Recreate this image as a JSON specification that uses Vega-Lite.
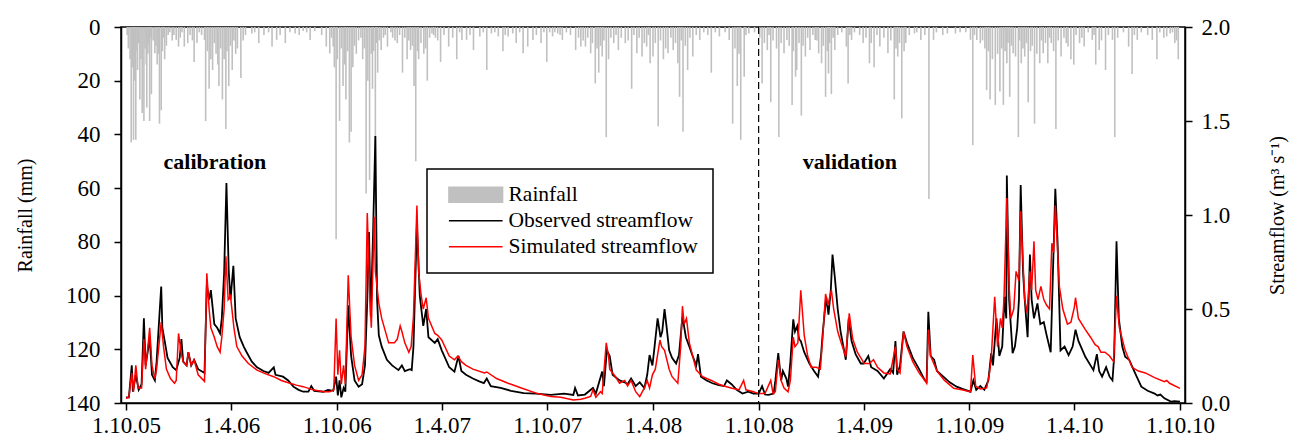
{
"$schema": "https://vega.github.io/schema/vega-lite/v6.json",
"width": 1064, "height": 376,
"autosize": {"type": "none"},
"padding": {"left": 121, "top": 27, "right": 107, "bottom": 43},
"background": "white",
"config": {
  "view": {"stroke": "black", "strokeWidth": 1.5},
  "axis": {"labelFont": "Liberation Serif", "titleFont": "Liberation Serif", "labelColor": "black", "titleColor": "black", "domainColor": "black", "tickColor": "black", "grid": false, "titleFontWeight": "normal", "labelFontSize": 23, "titleFontSize": 20, "tickSize": 7, "domainWidth": 1.5, "tickWidth": 1.5}
},
"datasets": {
  "rain": [
    {"date":"2005-10-08","rain":12},{"date":"2005-10-10","rain":43},{"date":"2005-10-14","rain":42},{"date":"2005-10-18","rain":42},{"date":"2005-10-21","rain":16},{"date":"2005-10-25","rain":27},{"date":"2005-10-29","rain":32},{"date":"2005-11-01","rain":35},{"date":"2005-11-06","rain":30},{"date":"2005-11-08","rain":10},{"date":"2005-11-11","rain":35},{"date":"2005-11-14","rain":25},{"date":"2005-11-20","rain":9.8},{"date":"2005-11-24","rain":14},{"date":"2005-11-28","rain":36},{"date":"2005-12-01","rain":31},{"date":"2005-12-07","rain":12},{"date":"2005-12-10","rain":7},{"date":"2005-12-27","rain":4.8},{"date":"2005-12-31","rain":7.3},
    {"date":"2006-01-10","rain":7.3},{"date":"2006-01-16","rain":6},{"date":"2006-01-27","rain":13},{"date":"2006-02-01","rain":6},{"date":"2006-02-14","rain":4.8},{"date":"2006-02-16","rain":35},{"date":"2006-02-22","rain":23},{"date":"2006-02-28","rain":16},{"date":"2006-03-06","rain":10},{"date":"2006-03-11","rain":22},{"date":"2006-03-17","rain":27},{"date":"2006-03-23","rain":38},{"date":"2006-03-28","rain":22},{"date":"2006-04-03","rain":16},{"date":"2006-04-09","rain":10},{"date":"2006-04-18","rain":19},{"date":"2006-04-22","rain":5},{"date":"2006-05-07","rain":2.4},{"date":"2006-05-19","rain":6},{"date":"2006-06-11","rain":7.3},{"date":"2006-06-19","rain":4.8},{"date":"2006-07-04","rain":6},{"date":"2006-07-21","rain":2.4},{"date":"2006-08-04","rain":1.5},{"date":"2006-08-16","rain":4.8},{"date":"2006-08-24","rain":1.5},{"date":"2006-09-13","rain":7.3},{"date":"2006-09-19","rain":9.8},{"date":"2006-09-25","rain":7.3},{"date":"2006-09-30","rain":79},
    {"date":"2006-10-06","rain":35},{"date":"2006-10-12","rain":22},{"date":"2006-10-17","rain":27},{"date":"2006-10-23","rain":43},{"date":"2006-10-26","rain":39},{"date":"2006-11-04","rain":10},{"date":"2006-11-15","rain":12},{"date":"2006-11-21","rain":62},{"date":"2006-11-27","rain":57},{"date":"2006-12-02","rain":23},{"date":"2006-12-07","rain":66},{"date":"2006-12-11","rain":17},{"date":"2006-12-17","rain":8.6},{"date":"2006-12-28","rain":7.3},
    {"date":"2007-01-06","rain":4},{"date":"2007-01-14","rain":6},{"date":"2007-01-23","rain":17},{"date":"2007-01-31","rain":12},{"date":"2007-02-06","rain":8.6},{"date":"2007-02-12","rain":22},{"date":"2007-02-15","rain":50},{"date":"2007-02-20","rain":12},{"date":"2007-03-01","rain":10},{"date":"2007-03-07","rain":20},{"date":"2007-03-15","rain":2.4},{"date":"2007-03-21","rain":4},{"date":"2007-03-30","rain":13},{"date":"2007-04-13","rain":7.3},{"date":"2007-04-27","rain":12},{"date":"2007-05-06","rain":4.8},{"date":"2007-05-14","rain":4.8},{"date":"2007-05-26","rain":8.6},{"date":"2007-06-06","rain":3.5},{"date":"2007-06-18","rain":16},{"date":"2007-06-26","rain":2.4},{"date":"2007-07-08","rain":3.5},{"date":"2007-07-16","rain":9},{"date":"2007-07-25","rain":3.5},{"date":"2007-08-02","rain":2.4},{"date":"2007-08-08","rain":6},{"date":"2007-08-20","rain":9.8},{"date":"2007-08-28","rain":7.3},{"date":"2007-09-06","rain":4.8},{"date":"2007-09-20","rain":6},{"date":"2007-09-30","rain":13},
    {"date":"2007-10-10","rain":3.5},{"date":"2007-10-19","rain":2.4},{"date":"2007-10-27","rain":4.8},{"date":"2007-11-19","rain":8.6},{"date":"2007-11-28","rain":7.3},{"date":"2007-12-06","rain":7.3},{"date":"2007-12-15","rain":9.8},{"date":"2007-12-23","rain":21},{"date":"2007-12-29","rain":17},
    {"date":"2008-01-04","rain":11},{"date":"2008-01-11","rain":41},{"date":"2008-01-15","rain":12},{"date":"2008-01-24","rain":6},{"date":"2008-02-01","rain":8.6},{"date":"2008-02-13","rain":6},{"date":"2008-02-24","rain":23},{"date":"2008-03-04","rain":9.8},{"date":"2008-03-13","rain":11},{"date":"2008-03-21","rain":7.3},{"date":"2008-03-27","rain":13.5},{"date":"2008-04-01","rain":11},{"date":"2008-04-10","rain":37},{"date":"2008-04-19","rain":12},{"date":"2008-04-27","rain":9.8},{"date":"2008-05-06","rain":8.6},{"date":"2008-05-14","rain":13.5},{"date":"2008-05-17","rain":26},{"date":"2008-05-23","rain":39},{"date":"2008-05-31","rain":16},{"date":"2008-06-09","rain":11},{"date":"2008-06-21","rain":4.8},{"date":"2008-07-11","rain":17},{"date":"2008-07-25","rain":3.5},{"date":"2008-08-11","rain":4.8},{"date":"2008-08-17","rain":36},{"date":"2008-08-25","rain":22},{"date":"2008-08-31","rain":42},{"date":"2008-09-06","rain":18.5},{"date":"2008-09-14","rain":2.4},
    {"date":"2008-10-07","rain":21},{"date":"2008-10-16","rain":8.6},{"date":"2008-10-22","rain":28},{"date":"2008-11-05","rain":41},{"date":"2008-11-14","rain":9.8},{"date":"2008-11-19","rain":4.8},{"date":"2008-11-28","rain":29},{"date":"2008-12-04","rain":18.5},{"date":"2008-12-06","rain":16},{"date":"2008-12-14","rain":33},{"date":"2008-12-21","rain":11},{"date":"2008-12-29","rain":8.6},
    {"date":"2009-01-07","rain":4.8},{"date":"2009-01-13","rain":9.8},{"date":"2009-01-18","rain":13.5},{"date":"2009-01-25","rain":26},{"date":"2009-01-30","rain":17.3},{"date":"2009-02-04","rain":25},{"date":"2009-02-10","rain":8.6},{"date":"2009-03-02","rain":7.3},{"date":"2009-03-05","rain":21},{"date":"2009-03-11","rain":4.8},{"date":"2009-03-31","rain":6},{"date":"2009-04-11","rain":13.5},{"date":"2009-04-19","rain":15},{"date":"2009-04-29","rain":7.3},{"date":"2009-05-13","rain":9.8},{"date":"2009-05-24","rain":27},{"date":"2009-05-30","rain":11},{"date":"2009-06-06","rain":34},{"date":"2009-06-13","rain":6},{"date":"2009-06-28","rain":2.4},{"date":"2009-07-09","rain":4.8},{"date":"2009-07-23","rain":64},{"date":"2009-07-31","rain":4.8},{"date":"2009-08-24","rain":2.4},{"date":"2009-09-07","rain":2.4},
    {"date":"2009-10-03","rain":4.8},{"date":"2009-10-07","rain":44},{"date":"2009-10-14","rain":4.8},{"date":"2009-10-20","rain":6},{"date":"2009-10-31","rain":23.5},{"date":"2009-11-06","rain":27},{"date":"2009-11-15","rain":29},{"date":"2009-11-23","rain":24},{"date":"2009-11-29","rain":29},{"date":"2009-12-05","rain":13.5},{"date":"2009-12-10","rain":26},{"date":"2009-12-16","rain":9.8},{"date":"2009-12-25","rain":41},{"date":"2009-12-30","rain":13.5},
    {"date":"2010-01-05","rain":11},{"date":"2010-01-11","rain":28},{"date":"2010-01-22","rain":36},{"date":"2010-01-31","rain":13.5},{"date":"2010-02-06","rain":9.8},{"date":"2010-02-14","rain":13.5},{"date":"2010-02-20","rain":6},{"date":"2010-02-28","rain":38},{"date":"2010-03-09","rain":11},{"date":"2010-03-21","rain":7.3},{"date":"2010-03-26","rain":12},{"date":"2010-03-31","rain":14},{"date":"2010-04-10","rain":6},{"date":"2010-04-18","rain":7.3},{"date":"2010-05-02","rain":4.8},{"date":"2010-05-08","rain":14},{"date":"2010-05-14","rain":8.6},{"date":"2010-05-25","rain":16},{"date":"2010-06-06","rain":4.8},{"date":"2010-06-10","rain":41},{"date":"2010-07-04","rain":7.3},{"date":"2010-07-10","rain":17.5},{"date":"2010-07-19","rain":4.8},{"date":"2010-08-14","rain":4.8},{"date":"2010-08-22","rain":12},{"date":"2010-09-08","rain":3.5},{"date":"2010-09-14","rain":2.4},{"date":"2010-09-22","rain":6},{"date":"2010-09-28","rain":12},
    {"date":"2005-10-03","rain":3},{"date":"2005-10-05","rain":8},{"date":"2005-10-12","rain":15},{"date":"2005-10-16","rain":20},{"date":"2005-10-20","rain":9},{"date":"2005-10-23","rain":6},{"date":"2005-10-27","rain":12},{"date":"2005-11-03","rain":8},{"date":"2005-11-05","rain":14},{"date":"2005-11-09","rain":6},{"date":"2005-11-13","rain":4},{"date":"2005-11-17","rain":5},{"date":"2005-11-22","rain":7},{"date":"2005-11-26","rain":10},{"date":"2005-12-03","rain":9},{"date":"2005-12-05","rain":4},{"date":"2005-12-13","rain":3},{"date":"2005-12-16","rain":2},{"date":"2005-12-20","rain":5},{"date":"2005-12-23","rain":3},
    {"date":"2006-01-03","rain":4},{"date":"2006-01-06","rain":2},{"date":"2006-01-20","rain":3},{"date":"2006-01-24","rain":5},{"date":"2006-02-05","rain":2},{"date":"2006-02-09","rain":3},{"date":"2006-02-19","rain":9},{"date":"2006-02-25","rain":12},{"date":"2006-03-03","rain":6},{"date":"2006-03-09","rain":14},{"date":"2006-03-14","rain":8},{"date":"2006-03-20","rain":12},{"date":"2006-03-25","rain":9},{"date":"2006-03-31","rain":7},{"date":"2006-04-06","rain":5},{"date":"2006-04-12","rain":8},{"date":"2006-04-26","rain":3},{"date":"2006-05-12","rain":2},{"date":"2006-05-28","rain":3},{"date":"2006-06-05","rain":2},{"date":"2006-06-25","rain":3},{"date":"2006-07-12","rain":2},{"date":"2006-07-28","rain":3},{"date":"2006-08-10","rain":2},{"date":"2006-09-05","rain":3},{"date":"2006-09-22","rain":4},{"date":"2006-09-27","rain":15},
    {"date":"2006-10-02","rain":12},{"date":"2006-10-09","rain":8},{"date":"2006-10-15","rain":14},{"date":"2006-10-20","rain":9},{"date":"2006-10-29","rain":15},{"date":"2006-11-01","rain":7},{"date":"2006-11-08","rain":5},{"date":"2006-11-12","rain":4},{"date":"2006-11-18","rain":8},{"date":"2006-11-24","rain":20},{"date":"2006-11-30","rain":10},{"date":"2006-12-04","rain":9},{"date":"2006-12-09","rain":6},{"date":"2006-12-14","rain":5},{"date":"2006-12-21","rain":4},{"date":"2006-12-24","rain":3},
    {"date":"2007-01-03","rain":2},{"date":"2007-01-10","rain":5},{"date":"2007-01-18","rain":3},{"date":"2007-01-27","rain":4},{"date":"2007-02-03","rain":5},{"date":"2007-02-09","rain":7},{"date":"2007-02-18","rain":9},{"date":"2007-02-24","rain":6},{"date":"2007-03-04","rain":8},{"date":"2007-03-11","rain":4},{"date":"2007-03-18","rain":3},{"date":"2007-03-25","rain":5},{"date":"2007-04-05","rain":3},{"date":"2007-04-20","rain":4},{"date":"2007-05-02","rain":2},{"date":"2007-05-20","rain":3},{"date":"2007-06-12","rain":2},{"date":"2007-07-02","rain":2},{"date":"2007-07-20","rain":3},{"date":"2007-08-14","rain":2},{"date":"2007-09-12","rain":3},{"date":"2007-09-25","rain":2},
    {"date":"2007-10-05","rain":2},{"date":"2007-10-14","rain":2},{"date":"2007-10-23","rain":3},{"date":"2007-11-03","rain":2},{"date":"2007-11-10","rain":3},{"date":"2007-11-24","rain":4},{"date":"2007-12-02","rain":5},{"date":"2007-12-10","rain":4},{"date":"2007-12-18","rain":6},{"date":"2007-12-26","rain":8},
    {"date":"2008-01-01","rain":7},{"date":"2008-01-07","rain":5},{"date":"2008-01-19","rain":4},{"date":"2008-01-28","rain":3},{"date":"2008-02-06","rain":4},{"date":"2008-02-18","rain":5},{"date":"2008-02-28","rain":3},{"date":"2008-03-08","rain":4},{"date":"2008-03-17","rain":6},{"date":"2008-03-24","rain":3},{"date":"2008-04-05","rain":6},{"date":"2008-04-14","rain":5},{"date":"2008-04-23","rain":8},{"date":"2008-05-02","rain":4},{"date":"2008-05-10","rain":6},{"date":"2008-05-20","rain":5},{"date":"2008-05-27","rain":7},{"date":"2008-06-04","rain":4},{"date":"2008-06-15","rain":3},{"date":"2008-06-28","rain":2},{"date":"2008-07-05","rain":3},{"date":"2008-07-18","rain":2},{"date":"2008-08-04","rain":2},{"date":"2008-08-21","rain":8},{"date":"2008-08-28","rain":10},{"date":"2008-09-09","rain":3},{"date":"2008-09-24","rain":2},
    {"date":"2008-10-03","rain":4},{"date":"2008-10-11","rain":6},{"date":"2008-10-19","rain":3},{"date":"2008-10-26","rain":5},{"date":"2008-11-01","rain":8},{"date":"2008-11-09","rain":6},{"date":"2008-11-23","rain":7},{"date":"2008-11-30","rain":9},{"date":"2008-12-10","rain":6},{"date":"2008-12-17","rain":7},{"date":"2008-12-25","rain":4},
    {"date":"2009-01-03","rain":3},{"date":"2009-01-10","rain":5},{"date":"2009-01-21","rain":7},{"date":"2009-01-28","rain":9},{"date":"2009-02-01","rain":6},{"date":"2009-02-07","rain":4},{"date":"2009-02-15","rain":3},{"date":"2009-02-22","rain":2},{"date":"2009-03-08","rain":3},{"date":"2009-03-16","rain":2},{"date":"2009-03-25","rain":3},{"date":"2009-04-05","rain":4},{"date":"2009-04-14","rain":6},{"date":"2009-04-24","rain":3},{"date":"2009-05-06","rain":4},{"date":"2009-05-18","rain":5},{"date":"2009-05-27","rain":8},{"date":"2009-06-02","rain":6},{"date":"2009-06-10","rain":9},{"date":"2009-06-19","rain":3},{"date":"2009-07-02","rain":2},{"date":"2009-07-16","rain":3},{"date":"2009-08-05","rain":2},{"date":"2009-08-16","rain":3},{"date":"2009-09-15","rain":2},{"date":"2009-09-25","rain":2},
    {"date":"2009-10-10","rain":3},{"date":"2009-10-24","rain":5},{"date":"2009-10-28","rain":8},{"date":"2009-11-03","rain":9},{"date":"2009-11-10","rain":12},{"date":"2009-11-19","rain":10},{"date":"2009-11-26","rain":8},{"date":"2009-12-02","rain":9},{"date":"2009-12-07","rain":6},{"date":"2009-12-13","rain":7},{"date":"2009-12-20","rain":11},{"date":"2009-12-27","rain":5},
    {"date":"2010-01-02","rain":8},{"date":"2010-01-08","rain":6},{"date":"2010-01-15","rain":9},{"date":"2010-01-18","rain":7},{"date":"2010-01-26","rain":10},{"date":"2010-02-03","rain":5},{"date":"2010-02-10","rain":6},{"date":"2010-02-17","rain":4},{"date":"2010-02-24","rain":9},{"date":"2010-03-04","rain":5},{"date":"2010-03-14","rain":4},{"date":"2010-03-18","rain":6},{"date":"2010-04-04","rain":3},{"date":"2010-04-14","rain":4},{"date":"2010-04-25","rain":2},{"date":"2010-05-05","rain":3},{"date":"2010-05-18","rain":5},{"date":"2010-05-30","rain":3},{"date":"2010-06-15","rain":4},{"date":"2010-06-25","rain":2},{"date":"2010-07-14","rain":3},{"date":"2010-07-26","rain":2},{"date":"2010-08-06","rain":3},{"date":"2010-08-27","rain":2},{"date":"2010-09-03","rain":4},{"date":"2010-09-18","rain":2},{"date":"2010-09-25","rain":5}
  ],
  "obs": [
    {"date":"2005-10-01","flow":0.03},{"date":"2005-10-06","flow":0.03},{"date":"2005-10-11","flow":0.20},{"date":"2005-10-13","flow":0.06},{"date":"2005-10-18","flow":0.15},{"date":"2005-10-23","flow":0.07},{"date":"2005-10-28","flow":0.10},{"date":"2005-11-01","flow":0.45},{"date":"2005-11-04","flow":0.20},{"date":"2005-11-08","flow":0.28},{"date":"2005-11-11","flow":0.35},{"date":"2005-11-15","flow":0.15},{"date":"2005-11-20","flow":0.12},{"date":"2005-11-23","flow":0.22},{"date":"2005-12-01","flow":0.62},{"date":"2005-12-03","flow":0.40},{"date":"2005-12-07","flow":0.33},{"date":"2005-12-12","flow":0.24},{"date":"2005-12-21","flow":0.19},{"date":"2005-12-27","flow":0.175},
    {"date":"2006-01-02","flow":0.24},{"date":"2006-01-05","flow":0.34},{"date":"2006-01-08","flow":0.22},{"date":"2006-01-14","flow":0.20},{"date":"2006-01-17","flow":0.27},{"date":"2006-01-22","flow":0.20},{"date":"2006-01-27","flow":0.23},{"date":"2006-02-03","flow":0.18},{"date":"2006-02-14","flow":0.16},{"date":"2006-02-18","flow":0.63},{"date":"2006-02-22","flow":0.55},{"date":"2006-02-25","flow":0.60},{"date":"2006-03-03","flow":0.42},{"date":"2006-03-08","flow":0.40},{"date":"2006-03-13","flow":0.37},{"date":"2006-03-16","flow":0.45},{"date":"2006-03-20","flow":0.69},{"date":"2006-03-24","flow":1.17},{"date":"2006-03-28","flow":0.70},{"date":"2006-03-31","flow":0.55},{"date":"2006-04-05","flow":0.73},{"date":"2006-04-09","flow":0.45},{"date":"2006-04-16","flow":0.35},{"date":"2006-04-23","flow":0.30},{"date":"2006-04-28","flow":0.27},{"date":"2006-05-07","flow":0.22},{"date":"2006-05-16","flow":0.19},{"date":"2006-05-22","flow":0.18},{"date":"2006-05-27","flow":0.17},{"date":"2006-06-05","flow":0.16},{"date":"2006-06-14","flow":0.19},{"date":"2006-06-17","flow":0.15},{"date":"2006-06-30","flow":0.14},{"date":"2006-07-09","flow":0.12},{"date":"2006-07-18","flow":0.087},{"date":"2006-07-27","flow":0.07},{"date":"2006-08-04","flow":0.06},{"date":"2006-08-13","flow":0.06},{"date":"2006-08-18","flow":0.09},{"date":"2006-08-23","flow":0.065},{"date":"2006-09-08","flow":0.06},{"date":"2006-09-16","flow":0.07},{"date":"2006-09-25","flow":0.065},{"date":"2006-09-30","flow":0.14},
    {"date":"2006-10-03","flow":0.04},{"date":"2006-10-06","flow":0.12},{"date":"2006-10-09","flow":0.03},{"date":"2006-10-13","flow":0.08},{"date":"2006-10-16","flow":0.06},{"date":"2006-10-21","flow":0.52},{"date":"2006-10-26","flow":0.25},{"date":"2006-11-01","flow":0.12},{"date":"2006-11-08","flow":0.087},{"date":"2006-11-14","flow":0.10},{"date":"2006-11-19","flow":0.20},{"date":"2006-11-23","flow":0.55},{"date":"2006-11-26","flow":0.91},{"date":"2006-11-29","flow":0.46},{"date":"2006-12-03","flow":0.90},{"date":"2006-12-07","flow":1.42},{"date":"2006-12-10","flow":0.55},{"date":"2006-12-13","flow":0.36},{"date":"2006-12-18","flow":0.30},{"date":"2006-12-27","flow":0.23},
    {"date":"2007-01-05","flow":0.20},{"date":"2007-01-16","flow":0.175},{"date":"2007-01-22","flow":0.20},{"date":"2007-01-27","flow":0.17},{"date":"2007-02-05","flow":0.18},{"date":"2007-02-08","flow":0.175},{"date":"2007-02-11","flow":0.30},{"date":"2007-02-17","flow":0.95},{"date":"2007-02-22","flow":0.57},{"date":"2007-02-28","flow":0.41},{"date":"2007-03-05","flow":0.50},{"date":"2007-03-09","flow":0.35},{"date":"2007-03-20","flow":0.32},{"date":"2007-03-25","flow":0.34},{"date":"2007-04-01","flow":0.28},{"date":"2007-04-14","flow":0.19},{"date":"2007-04-23","flow":0.167},{"date":"2007-04-30","flow":0.25},{"date":"2007-05-05","flow":0.17},{"date":"2007-05-13","flow":0.15},{"date":"2007-05-25","flow":0.13},{"date":"2007-06-05","flow":0.115},{"date":"2007-06-13","flow":0.106},{"date":"2007-06-18","flow":0.13},{"date":"2007-06-25","flow":0.09},{"date":"2007-07-12","flow":0.08},{"date":"2007-07-30","flow":0.065},{"date":"2007-08-21","flow":0.053},{"date":"2007-09-11","flow":0.05},
    {"date":"2007-10-07","flow":0.043},{"date":"2007-10-30","flow":0.05},{"date":"2007-11-15","flow":0.043},{"date":"2007-11-18","flow":0.08},{"date":"2007-11-23","flow":0.04},{"date":"2007-12-05","flow":0.045},{"date":"2007-12-19","flow":0.08},{"date":"2007-12-24","flow":0.05},
    {"date":"2008-01-04","flow":0.167},{"date":"2008-01-07","flow":0.09},{"date":"2008-01-12","flow":0.28},{"date":"2008-01-17","flow":0.25},{"date":"2008-01-22","flow":0.15},{"date":"2008-02-03","flow":0.12},{"date":"2008-02-12","flow":0.11},{"date":"2008-02-17","flow":0.10},{"date":"2008-02-23","flow":0.13},{"date":"2008-03-02","flow":0.09},{"date":"2008-03-09","flow":0.11},{"date":"2008-03-17","flow":0.08},{"date":"2008-03-22","flow":0.15},{"date":"2008-03-26","flow":0.255},{"date":"2008-03-31","flow":0.20},{"date":"2008-04-03","flow":0.28},{"date":"2008-04-09","flow":0.45},{"date":"2008-04-14","flow":0.35},{"date":"2008-04-17","flow":0.38},{"date":"2008-04-21","flow":0.50},{"date":"2008-04-24","flow":0.42},{"date":"2008-04-29","flow":0.28},{"date":"2008-05-04","flow":0.24},{"date":"2008-05-11","flow":0.21},{"date":"2008-05-16","flow":0.255},{"date":"2008-05-22","flow":0.46},{"date":"2008-05-28","flow":0.35},{"date":"2008-06-03","flow":0.30},{"date":"2008-06-08","flow":0.255},{"date":"2008-06-15","flow":0.20},{"date":"2008-06-18","flow":0.26},{"date":"2008-06-23","flow":0.14},{"date":"2008-07-03","flow":0.12},{"date":"2008-07-13","flow":0.105},{"date":"2008-07-24","flow":0.095},{"date":"2008-08-02","flow":0.09},{"date":"2008-08-07","flow":0.12},{"date":"2008-08-15","flow":0.10},{"date":"2008-08-24","flow":0.07},{"date":"2008-09-03","flow":0.05},{"date":"2008-09-13","flow":0.06},{"date":"2008-09-22","flow":0.05},
    {"date":"2008-10-01","flow":0.05},{"date":"2008-10-07","flow":0.09},{"date":"2008-10-12","flow":0.045},{"date":"2008-10-18","flow":0.043},{"date":"2008-10-27","flow":0.05},{"date":"2008-10-30","flow":0.12},{"date":"2008-11-04","flow":0.265},{"date":"2008-11-09","flow":0.12},{"date":"2008-11-12","flow":0.17},{"date":"2008-11-18","flow":0.13},{"date":"2008-11-21","flow":0.087},{"date":"2008-11-25","flow":0.22},{"date":"2008-11-30","flow":0.445},{"date":"2008-12-03","flow":0.38},{"date":"2008-12-07","flow":0.41},{"date":"2008-12-10","flow":0.34},{"date":"2008-12-13","flow":0.33},{"date":"2008-12-19","flow":0.27},{"date":"2008-12-28","flow":0.21},
    {"date":"2009-01-05","flow":0.17},{"date":"2009-01-12","flow":0.14},{"date":"2009-01-17","flow":0.25},{"date":"2009-01-20","flow":0.37},{"date":"2009-01-26","flow":0.565},{"date":"2009-01-30","flow":0.47},{"date":"2009-02-03","flow":0.60},{"date":"2009-02-06","flow":0.79},{"date":"2009-02-10","flow":0.67},{"date":"2009-02-15","flow":0.50},{"date":"2009-02-20","flow":0.38},{"date":"2009-03-01","flow":0.23},{"date":"2009-03-06","flow":0.45},{"date":"2009-03-11","flow":0.33},{"date":"2009-03-18","flow":0.26},{"date":"2009-03-27","flow":0.21},{"date":"2009-04-01","flow":0.21},{"date":"2009-04-09","flow":0.25},{"date":"2009-04-14","flow":0.19},{"date":"2009-04-25","flow":0.17},{"date":"2009-05-06","flow":0.13},{"date":"2009-05-17","flow":0.18},{"date":"2009-05-22","flow":0.16},{"date":"2009-05-26","flow":0.33},{"date":"2009-05-29","flow":0.15},{"date":"2009-06-03","flow":0.20},{"date":"2009-06-09","flow":0.38},{"date":"2009-06-15","flow":0.32},{"date":"2009-06-25","flow":0.24},{"date":"2009-07-06","flow":0.18},{"date":"2009-07-16","flow":0.12},{"date":"2009-07-19","flow":0.113},{"date":"2009-07-22","flow":0.485},{"date":"2009-07-26","flow":0.25},{"date":"2009-08-01","flow":0.23},{"date":"2009-08-06","flow":0.17},{"date":"2009-08-17","flow":0.14},{"date":"2009-08-28","flow":0.11},{"date":"2009-09-09","flow":0.087},{"date":"2009-09-19","flow":0.075},
    {"date":"2009-10-03","flow":0.06},{"date":"2009-10-08","flow":0.12},{"date":"2009-10-13","flow":0.07},{"date":"2009-10-20","flow":0.09},{"date":"2009-10-27","flow":0.07},{"date":"2009-11-03","flow":0.12},{"date":"2009-11-08","flow":0.265},{"date":"2009-11-11","flow":0.20},{"date":"2009-11-17","flow":0.45},{"date":"2009-11-22","flow":0.25},{"date":"2009-11-27","flow":0.30},{"date":"2009-12-01","flow":0.565},{"date":"2009-12-04","flow":0.45},{"date":"2009-12-05","flow":1.21},{"date":"2009-12-09","flow":0.55},{"date":"2009-12-15","flow":0.265},{"date":"2009-12-19","flow":0.30},{"date":"2009-12-23","flow":0.40},{"date":"2009-12-26","flow":0.55},{"date":"2009-12-29","flow":1.16},
    {"date":"2010-01-02","flow":0.70},{"date":"2010-01-05","flow":0.55},{"date":"2010-01-10","flow":0.35},{"date":"2010-01-14","flow":0.79},{"date":"2010-01-17","flow":0.55},{"date":"2010-01-21","flow":0.45},{"date":"2010-01-27","flow":0.53},{"date":"2010-02-01","flow":0.42},{"date":"2010-02-07","flow":0.43},{"date":"2010-02-12","flow":0.36},{"date":"2010-02-19","flow":0.27},{"date":"2010-02-22","flow":0.60},{"date":"2010-02-27","flow":1.14},{"date":"2010-03-03","flow":0.85},{"date":"2010-03-08","flow":0.28},{"date":"2010-03-15","flow":0.30},{"date":"2010-03-22","flow":0.255},{"date":"2010-03-29","flow":0.30},{"date":"2010-04-03","flow":0.39},{"date":"2010-04-08","flow":0.33},{"date":"2010-04-20","flow":0.246},{"date":"2010-04-29","flow":0.20},{"date":"2010-05-04","flow":0.175},{"date":"2010-05-10","flow":0.26},{"date":"2010-05-14","flow":0.17},{"date":"2010-05-19","flow":0.14},{"date":"2010-05-26","flow":0.19},{"date":"2010-06-01","flow":0.14},{"date":"2010-06-06","flow":0.12},{"date":"2010-06-09","flow":0.25},{"date":"2010-06-13","flow":0.86},{"date":"2010-06-17","flow":0.45},{"date":"2010-06-23","flow":0.30},{"date":"2010-06-28","flow":0.246},{"date":"2010-07-05","flow":0.23},{"date":"2010-07-15","flow":0.16},{"date":"2010-07-26","flow":0.087},{"date":"2010-08-06","flow":0.065},{"date":"2010-08-18","flow":0.05},{"date":"2010-08-23","flow":0.04},{"date":"2010-08-28","flow":0.045},{"date":"2010-09-04","flow":0.025},{"date":"2010-09-16","flow":0.007},{"date":"2010-09-21","flow":0.01},{"date":"2010-10-01","flow":0.007}
  ],
  "sim": [
    {"date":"2005-10-01","flow":0.025},{"date":"2005-10-06","flow":0.03},{"date":"2005-10-11","flow":0.16},{"date":"2005-10-14","flow":0.06},{"date":"2005-10-18","flow":0.20},{"date":"2005-10-22","flow":0.08},{"date":"2005-10-28","flow":0.08},{"date":"2005-11-01","flow":0.34},{"date":"2005-11-04","flow":0.18},{"date":"2005-11-08","flow":0.30},{"date":"2005-11-11","flow":0.40},{"date":"2005-11-15","flow":0.20},{"date":"2005-11-20","flow":0.13},{"date":"2005-11-23","flow":0.18},{"date":"2005-12-01","flow":0.43},{"date":"2005-12-05","flow":0.30},{"date":"2005-12-10","flow":0.18},{"date":"2005-12-17","flow":0.13},{"date":"2005-12-24","flow":0.105},{"date":"2005-12-27","flow":0.12},{"date":"2005-12-31","flow":0.37},
    {"date":"2006-01-05","flow":0.26},{"date":"2006-01-08","flow":0.22},{"date":"2006-01-14","flow":0.20},{"date":"2006-01-17","flow":0.27},{"date":"2006-01-22","flow":0.20},{"date":"2006-01-27","flow":0.23},{"date":"2006-02-03","flow":0.15},{"date":"2006-02-14","flow":0.115},{"date":"2006-02-18","flow":0.69},{"date":"2006-02-22","flow":0.50},{"date":"2006-02-25","flow":0.40},{"date":"2006-03-03","flow":0.35},{"date":"2006-03-08","flow":0.30},{"date":"2006-03-13","flow":0.27},{"date":"2006-03-16","flow":0.35},{"date":"2006-03-20","flow":0.50},{"date":"2006-03-23","flow":0.78},{"date":"2006-03-27","flow":0.55},{"date":"2006-03-31","flow":0.57},{"date":"2006-04-06","flow":0.40},{"date":"2006-04-11","flow":0.30},{"date":"2006-04-20","flow":0.25},{"date":"2006-05-01","flow":0.21},{"date":"2006-05-16","flow":0.175},{"date":"2006-05-31","flow":0.155},{"date":"2006-06-14","flow":0.14},{"date":"2006-06-27","flow":0.12},{"date":"2006-07-12","flow":0.105},{"date":"2006-07-23","flow":0.095},{"date":"2006-08-04","flow":0.087},{"date":"2006-08-21","flow":0.07},{"date":"2006-09-08","flow":0.06},{"date":"2006-09-19","flow":0.06},{"date":"2006-09-26","flow":0.07},{"date":"2006-09-30","flow":0.45},
    {"date":"2006-10-03","flow":0.15},{"date":"2006-10-06","flow":0.28},{"date":"2006-10-09","flow":0.10},{"date":"2006-10-13","flow":0.20},{"date":"2006-10-16","flow":0.10},{"date":"2006-10-21","flow":0.68},{"date":"2006-10-26","flow":0.35},{"date":"2006-11-01","flow":0.20},{"date":"2006-11-08","flow":0.12},{"date":"2006-11-14","flow":0.15},{"date":"2006-11-19","flow":0.30},{"date":"2006-11-23","flow":1.01},{"date":"2006-11-27","flow":0.60},{"date":"2006-11-30","flow":0.40},{"date":"2006-12-05","flow":0.99},{"date":"2006-12-07","flow":0.70},{"date":"2006-12-13","flow":0.53},{"date":"2006-12-18","flow":0.45},{"date":"2006-12-30","flow":0.32},
    {"date":"2007-01-09","flow":0.32},{"date":"2007-01-14","flow":0.34},{"date":"2007-01-19","flow":0.41},{"date":"2007-01-22","flow":0.38},{"date":"2007-01-27","flow":0.32},{"date":"2007-02-03","flow":0.27},{"date":"2007-02-07","flow":0.30},{"date":"2007-02-11","flow":0.46},{"date":"2007-02-17","flow":1.05},{"date":"2007-02-20","flow":0.70},{"date":"2007-02-24","flow":0.58},{"date":"2007-02-28","flow":0.50},{"date":"2007-03-05","flow":0.56},{"date":"2007-03-09","flow":0.45},{"date":"2007-03-20","flow":0.37},{"date":"2007-03-25","flow":0.36},{"date":"2007-04-01","flow":0.335},{"date":"2007-04-14","flow":0.25},{"date":"2007-04-23","flow":0.23},{"date":"2007-04-29","flow":0.25},{"date":"2007-05-05","flow":0.22},{"date":"2007-05-13","flow":0.20},{"date":"2007-05-25","flow":0.18},{"date":"2007-06-14","flow":0.16},{"date":"2007-06-18","flow":0.165},{"date":"2007-07-05","flow":0.13},{"date":"2007-07-25","flow":0.105},{"date":"2007-08-17","flow":0.08},{"date":"2007-09-14","flow":0.05},
    {"date":"2007-10-07","flow":0.035},{"date":"2007-10-24","flow":0.03},{"date":"2007-11-15","flow":0.016},{"date":"2007-11-28","flow":0.02},{"date":"2007-12-05","flow":0.025},{"date":"2007-12-15","flow":0.035},{"date":"2007-12-19","flow":0.07},{"date":"2007-12-24","flow":0.03},
    {"date":"2008-01-01","flow":0.06},{"date":"2008-01-04","flow":0.05},{"date":"2008-01-11","flow":0.32},{"date":"2008-01-15","flow":0.25},{"date":"2008-01-17","flow":0.18},{"date":"2008-01-27","flow":0.14},{"date":"2008-02-03","flow":0.105},{"date":"2008-02-12","flow":0.12},{"date":"2008-02-17","flow":0.09},{"date":"2008-02-23","flow":0.12},{"date":"2008-03-02","flow":0.06},{"date":"2008-03-09","flow":0.034},{"date":"2008-03-17","flow":0.08},{"date":"2008-03-22","flow":0.12},{"date":"2008-03-26","flow":0.08},{"date":"2008-03-31","flow":0.15},{"date":"2008-04-05","flow":0.18},{"date":"2008-04-13","flow":0.335},{"date":"2008-04-16","flow":0.30},{"date":"2008-04-21","flow":0.28},{"date":"2008-04-29","flow":0.18},{"date":"2008-05-04","flow":0.14},{"date":"2008-05-14","flow":0.105},{"date":"2008-05-19","flow":0.30},{"date":"2008-05-22","flow":0.515},{"date":"2008-05-25","flow":0.42},{"date":"2008-05-29","flow":0.45},{"date":"2008-06-03","flow":0.32},{"date":"2008-06-15","flow":0.175},{"date":"2008-06-26","flow":0.14},{"date":"2008-07-11","flow":0.12},{"date":"2008-07-24","flow":0.10},{"date":"2008-08-02","flow":0.09},{"date":"2008-08-16","flow":0.078},{"date":"2008-08-28","flow":0.07},{"date":"2008-09-05","flow":0.12},{"date":"2008-09-09","flow":0.07},{"date":"2008-09-22","flow":0.06},
    {"date":"2008-10-01","flow":0.05},{"date":"2008-10-12","flow":0.05},{"date":"2008-10-22","flow":0.12},{"date":"2008-10-26","flow":0.05},{"date":"2008-10-30","flow":0.06},{"date":"2008-11-04","flow":0.23},{"date":"2008-11-09","flow":0.12},{"date":"2008-11-14","flow":0.08},{"date":"2008-11-21","flow":0.06},{"date":"2008-11-25","flow":0.12},{"date":"2008-11-30","flow":0.35},{"date":"2008-12-03","flow":0.30},{"date":"2008-12-08","flow":0.32},{"date":"2008-12-13","flow":0.60},{"date":"2008-12-19","flow":0.36},{"date":"2008-12-25","flow":0.25},{"date":"2008-12-31","flow":0.19},
    {"date":"2009-01-09","flow":0.19},{"date":"2009-01-16","flow":0.18},{"date":"2009-01-20","flow":0.35},{"date":"2009-01-25","flow":0.58},{"date":"2009-01-29","flow":0.52},{"date":"2009-02-04","flow":0.60},{"date":"2009-02-08","flow":0.50},{"date":"2009-02-15","flow":0.38},{"date":"2009-02-21","flow":0.32},{"date":"2009-03-01","flow":0.246},{"date":"2009-03-07","flow":0.477},{"date":"2009-03-13","flow":0.34},{"date":"2009-03-21","flow":0.27},{"date":"2009-04-02","flow":0.21},{"date":"2009-04-11","flow":0.21},{"date":"2009-04-18","flow":0.23},{"date":"2009-04-25","flow":0.19},{"date":"2009-05-06","flow":0.16},{"date":"2009-05-17","flow":0.155},{"date":"2009-05-26","flow":0.30},{"date":"2009-05-29","flow":0.18},{"date":"2009-06-03","flow":0.16},{"date":"2009-06-09","flow":0.38},{"date":"2009-06-15","flow":0.30},{"date":"2009-06-25","flow":0.22},{"date":"2009-07-06","flow":0.16},{"date":"2009-07-16","flow":0.12},{"date":"2009-07-19","flow":0.105},{"date":"2009-07-22","flow":0.39},{"date":"2009-07-26","flow":0.25},{"date":"2009-08-06","flow":0.17},{"date":"2009-08-19","flow":0.12},{"date":"2009-09-04","flow":0.078},{"date":"2009-09-18","flow":0.07},
    {"date":"2009-10-03","flow":0.06},{"date":"2009-10-07","flow":0.255},{"date":"2009-10-12","flow":0.09},{"date":"2009-10-20","flow":0.075},{"date":"2009-10-31","flow":0.08},{"date":"2009-11-05","flow":0.16},{"date":"2009-11-08","flow":0.24},{"date":"2009-11-14","flow":0.565},{"date":"2009-11-19","flow":0.30},{"date":"2009-11-24","flow":0.45},{"date":"2009-11-27","flow":0.40},{"date":"2009-11-30","flow":0.55},{"date":"2009-12-05","flow":1.09},{"date":"2009-12-09","flow":0.62},{"date":"2009-12-12","flow":0.45},{"date":"2009-12-17","flow":0.50},{"date":"2009-12-21","flow":0.70},{"date":"2009-12-26","flow":0.65},{"date":"2009-12-29","flow":1.02},
    {"date":"2010-01-02","flow":0.75},{"date":"2010-01-05","flow":0.55},{"date":"2010-01-09","flow":0.48},{"date":"2010-01-14","flow":0.70},{"date":"2010-01-17","flow":0.60},{"date":"2010-01-21","flow":0.86},{"date":"2010-01-24","flow":0.60},{"date":"2010-01-28","flow":0.55},{"date":"2010-02-02","flow":0.62},{"date":"2010-02-07","flow":0.55},{"date":"2010-02-12","flow":0.52},{"date":"2010-02-17","flow":0.50},{"date":"2010-02-21","flow":0.85},{"date":"2010-02-24","flow":0.80},{"date":"2010-02-27","flow":1.05},{"date":"2010-03-06","flow":0.62},{"date":"2010-03-12","flow":0.50},{"date":"2010-03-20","flow":0.42},{"date":"2010-03-26","flow":0.43},{"date":"2010-04-01","flow":0.51},{"date":"2010-04-03","flow":0.56},{"date":"2010-04-08","flow":0.45},{"date":"2010-04-20","flow":0.39},{"date":"2010-04-29","flow":0.35},{"date":"2010-05-07","flow":0.31},{"date":"2010-05-12","flow":0.30},{"date":"2010-05-17","flow":0.27},{"date":"2010-05-24","flow":0.27},{"date":"2010-06-01","flow":0.25},{"date":"2010-06-08","flow":0.22},{"date":"2010-06-13","flow":0.57},{"date":"2010-06-18","flow":0.40},{"date":"2010-06-28","flow":0.28},{"date":"2010-07-10","flow":0.19},{"date":"2010-07-21","flow":0.17},{"date":"2010-08-02","flow":0.16},{"date":"2010-08-18","flow":0.135},{"date":"2010-09-04","flow":0.113},{"date":"2010-09-08","flow":0.12},{"date":"2010-09-13","flow":0.105},{"date":"2010-10-01","flow":0.078}
  ],
  "periods": [
    {"date":"2006-03-04","flow":1.28,"label":"calibration"},
    {"date":"2009-03-08","flow":1.28,"label":"validation"}
  ],
  "divider": [{"date":"2008-10-01"}]
},
"encoding": {
  "x": {"field": "date", "type": "temporal",
    "scale": {"type": "utc", "domain": [{"year": 2005, "month": 10, "date": 1, "utc": true}, {"year": 2010, "month": 10, "date": 1, "utc": true}]},
    "axis": {"title": null, "labelExpr": "utcFormat(datum.value, '%-d.%-m.%y')", "labelFlush": false, "labelOverlap": false, "labelPadding": 4,
      "values": [
        {"year": 2005, "month": 10, "date": 1, "utc": true}, {"year": 2006, "month": 4, "date": 1, "utc": true},
        {"year": 2006, "month": 10, "date": 1, "utc": true}, {"year": 2007, "month": 4, "date": 1, "utc": true},
        {"year": 2007, "month": 10, "date": 1, "utc": true}, {"year": 2008, "month": 4, "date": 1, "utc": true},
        {"year": 2008, "month": 10, "date": 1, "utc": true}, {"year": 2009, "month": 4, "date": 1, "utc": true},
        {"year": 2009, "month": 10, "date": 1, "utc": true}, {"year": 2010, "month": 4, "date": 1, "utc": true},
        {"year": 2010, "month": 10, "date": 1, "utc": true}]}}
},
"layer": [
  {
    "data": {"name": "rain"},
    "mark": {"type": "bar", "size": 1.6},
    "encoding": {
      "y": {"field": "rain", "type": "quantitative",
        "scale": {"domain": [0, 140], "reverse": true, "nice": false},
        "axis": {"orient": "left", "title": "Rainfall (mm)", "values": [0, 20, 40, 60, 80, 100, 120, 140], "labelPadding": 14, "titlePadding": 30}},
      "color": {"datum": "Rainfall",
        "scale": {"domain": ["Rainfall", "Observed streamflow", "Simulated streamflow"], "range": ["#c0c0c0", "#000000", "#ff0000"]},
        "legend": {
          "orient": "none", "legendX": 306, "legendY": 142, "title": null,
          "padding": 15, "strokeColor": "black", "fillColor": "white",
          "symbolSize": 45, "symbolOffset": 23, "labelOffset": 22, "rowPadding": 3,
          "labelFont": "Liberation Serif", "labelFontSize": 21.5, "labelColor": "black", "labelLimit": 400,
          "encode": {
            "legend": {"update": {"strokeWidth": {"value": 1.5}}},
            "symbols": {"update": {
              "shape": {"signal": "datum.value === 'Rainfall' ? 'M-8,-2.2H8V2.2H-8Z' : 'M-8,0H8'"},
              "fill": {"signal": "datum.value === 'Rainfall' ? '#c0c0c0' : 'transparent'"},
              "stroke": {"signal": "datum.value === 'Rainfall' ? 'transparent' : (datum.value === 'Observed streamflow' ? '#000000' : '#ff0000')"},
              "strokeWidth": {"value": 1.5},
              "opacity": {"value": 1}
            }}
          }
        }}
    }
  },
  {
    "layer": [
      {
        "data": {"name": "obs"},
        "mark": {"type": "line", "strokeWidth": 1.8},
        "encoding": {
          "y": {"field": "flow", "type": "quantitative",
            "scale": {"domain": [0, 2], "nice": false},
            "axis": {"orient": "right", "title": "Streamflow (m³ s⁻¹)", "values": [0, 0.5, 1, 1.5, 2], "format": ".1f", "labelPadding": 9, "titlePadding": 58, "titleAngle": 270}},
          "color": {"datum": "Observed streamflow"}
        }
      },
      {
        "data": {"name": "sim"},
        "mark": {"type": "line", "strokeWidth": 1.5},
        "encoding": {
          "y": {"field": "flow", "type": "quantitative"},
          "color": {"datum": "Simulated streamflow"}
        }
      },
      {
        "data": {"name": "divider"},
        "mark": {"type": "rule", "color": "black", "strokeWidth": 1.2, "strokeDash": [7, 4]},
        "encoding": {}
      },
      {
        "data": {"name": "periods"},
        "mark": {"type": "text", "font": "Liberation Serif", "fontWeight": "bold", "fontSize": 22, "align": "center", "baseline": "middle", "color": "black"},
        "encoding": {
          "y": {"field": "flow", "type": "quantitative"},
          "text": {"field": "label"}
        }
      }
    ]
  }
],
"resolve": {"scale": {"y": "independent"}}
}
